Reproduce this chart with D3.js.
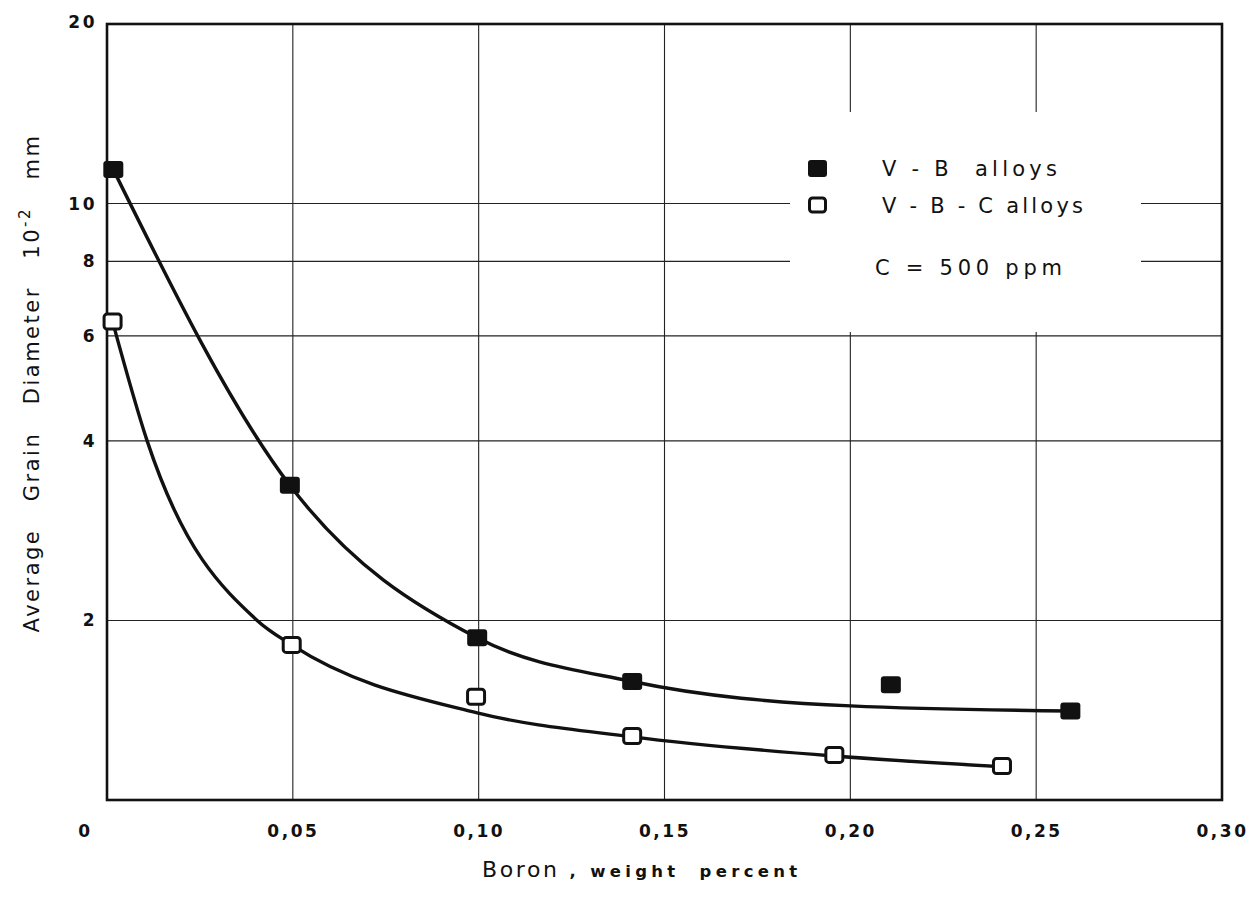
<!DOCTYPE html>
<html>
<head>
<meta charset="utf-8">
<script src="https://cdn.jsdelivr.net/npm/d3@7"></script>
<style>
  html, body { margin: 0; padding: 0; background: #fff; }
  svg { display: block; }
  text { fill: #111; }
</style>
</head>
<body>
<svg id="chart" width="1258" height="912"></svg>
<script>
// Measured grain sizes (10^-2 mm) against boron content (wt %)
const boronVB  = [0.0017, 0.0492, 0.0996, 0.1413, 0.2109, 0.2592];
const grainVB  = [11.4, 3.37, 1.87, 1.58, 1.56, 1.41];
const boronVBC = [0.0015, 0.0497, 0.0993, 0.1413, 0.1957, 0.2408];
const grainVBC = [6.34, 1.82, 1.49, 1.28, 1.19, 1.14];

// Hand-drawn trend curves (the 0.21 % V-B point lies off its curve)
const fitBoronVB = [0.0017, 0.0492, 0.0996, 0.1413, 0.2000, 0.2592];
const fitGrainVB = [11.4, 3.37, 1.87, 1.58, 1.438, 1.41];
const fitBoronVBC = [0.0015, 0.0108, 0.0404, 0.0497, 0.0996, 0.1413, 0.1957, 0.2408];
const fitGrainVBC = [6.34, 4.0, 2.0, 1.82, 1.40, 1.276, 1.185, 1.137];

// Axis ticks and labels
const xTicks = [0, 0.05, 0.10, 0.15, 0.20, 0.25, 0.30];
const xTickLabels = ["0", "0,05", "0,10", "0,15", "0,20", "0,25", "0,30"];
const yTicks = [2, 4, 6, 8, 10, 20];
const yTickLabels = ["2", "4", "6", "8", "10", "20"];
const yGrid = [2, 4, 6, 8, 10];

const legendLabels = ["V - B  alloys", "V - B - C alloys"];
const noteLabel = "C = 500 ppm";

const svg = d3.select("#chart");
const plotL = 107, plotR = 1222, plotT = 24, plotB = 800;

const x = d3.scaleLinear().domain([0, 0.30]).range([plotL, plotR]);
const y = d3.scaleLog().domain([1, 20]).range([plotB, plotT]);

const font = "'DejaVu Sans', 'Liberation Sans', sans-serif";

// Grid
const grid = svg.append("g").attr("stroke", "#222").attr("stroke-width", 1.1);
grid.selectAll("line.v").data(xTicks.slice(1, -1)).join("line")
  .attr("class", "v")
  .attr("x1", d => x(d)).attr("x2", d => x(d))
  .attr("y1", plotT).attr("y2", plotB);
grid.selectAll("line.h").data(yGrid).join("line")
  .attr("class", "h")
  .attr("x1", plotL).attr("x2", plotR)
  .attr("y1", d => y(d)).attr("y2", d => y(d));

// White panel behind the legend interrupts the grid
svg.append("rect")
  .attr("x", 790).attr("y", 112)
  .attr("width", 351).attr("height", 220)
  .attr("fill", "#fff");

// Frame
svg.append("rect")
  .attr("x", plotL).attr("y", plotT)
  .attr("width", plotR - plotL).attr("height", plotB - plotT)
  .attr("fill", "none").attr("stroke", "#111").attr("stroke-width", 2.6);

// Axes (labels only; the frame carries the lines)
const xAxis = d3.axisBottom(x).tickValues(xTicks).tickSize(0)
  .tickFormat((d, i) => xTickLabels[i]);
const gx = svg.append("g").attr("transform", `translate(0,${plotB})`).call(xAxis);
gx.select(".domain").remove();
gx.selectAll("text")
  .attr("dy", 0).attr("y", 37)
  .attr("font-family", font).attr("font-weight", "bold")
  .attr("font-size", 17).attr("letter-spacing", 2.5)
  .attr("fill", "#111");
gx.selectAll(".tick").filter(d => d === 0).select("text").attr("x", -22);

const yAxis = d3.axisLeft(y).tickValues(yTicks).tickSize(0)
  .tickFormat(d => yTickLabels[yTicks.indexOf(d)]);
const gy = svg.append("g").attr("transform", `translate(${plotL},0)`).call(yAxis);
gy.select(".domain").remove();
gy.selectAll("text")
  .attr("x", -10)
  .attr("font-family", font).attr("font-weight", "bold")
  .attr("font-size", 17).attr("letter-spacing", 2.5)
  .attr("fill", "#111");
gy.selectAll(".tick").filter(d => d === 20).select("text").attr("dy", "0.2em");

// Trend curves
const curveLine = d3.line()
  .x(d => x(d[0])).y(d => y(d[1]))
  .curve(d3.curveMonotoneX);

svg.append("path")
  .datum(d3.zip(fitBoronVB, fitGrainVB))
  .attr("d", curveLine)
  .attr("fill", "none").attr("stroke", "#111").attr("stroke-width", 3.4);
svg.append("path")
  .datum(d3.zip(fitBoronVBC, fitGrainVBC))
  .attr("d", curveLine)
  .attr("fill", "none").attr("stroke", "#111").attr("stroke-width", 3.4);

// Markers
const fW = 20, fH = 17, oW = 17, oH = 15;
svg.append("g").selectAll("rect")
  .data(d3.zip(boronVB, grainVB)).join("rect")
  .attr("x", d => x(d[0]) - fW / 2).attr("y", d => y(d[1]) - fH / 2)
  .attr("width", fW).attr("height", fH).attr("rx", 3)
  .attr("fill", "#111");
svg.append("g").selectAll("rect")
  .data(d3.zip(boronVBC, grainVBC)).join("rect")
  .attr("x", d => x(d[0]) - oW / 2).attr("y", d => y(d[1]) - oH / 2)
  .attr("width", oW).attr("height", oH).attr("rx", 3)
  .attr("fill", "#fff").attr("stroke", "#111").attr("stroke-width", 3);

// Legend
const lg = svg.append("g");
lg.append("rect").attr("x", 808).attr("y", 160).attr("width", 19).attr("height", 17)
  .attr("rx", 3).attr("fill", "#111");
lg.append("rect").attr("x", 809.5).attr("y", 198).attr("width", 16).attr("height", 14)
  .attr("rx", 3).attr("fill", "#fff").attr("stroke", "#111").attr("stroke-width", 3);
lg.selectAll("text.item").data(legendLabels).join("text")
  .attr("class", "item")
  .attr("x", 882).attr("y", (d, i) => 176 + i * 37)
  .attr("font-family", font).attr("font-size", 21)
  .attr("textLength", (d, i) => i === 0 ? 175 : 201)
  .attr("lengthAdjust", "spacing")
  .style("white-space", "pre")
  .text(d => d);
lg.append("text")
  .attr("x", 875).attr("y", 275)
  .attr("font-family", font).attr("font-size", 21)
  .attr("textLength", 187).attr("lengthAdjust", "spacing")
  .style("white-space", "pre")
  .text(noteLabel);

// Axis titles
const yt = svg.append("text")
  .attr("transform", "translate(39,383) rotate(-90)")
  .attr("text-anchor", "middle")
  .attr("font-family", font).attr("font-size", 21)
  .attr("letter-spacing", 2.5)
  .style("white-space", "pre");
yt.append("tspan").text("Average   Grain   Diameter   10");
yt.append("tspan").attr("dy", -9).attr("font-size", 15).text("-2");
yt.append("tspan").attr("dy", 9).text("   mm");

const xt = svg.append("text")
  .attr("x", 482).attr("y", 877)
  .attr("font-family", font)
  .style("white-space", "pre");
xt.append("tspan").attr("font-size", 22).attr("letter-spacing", 2.6).text("Boron");
xt.append("tspan").attr("font-size", 16.5).attr("font-weight", "bold")
  .attr("letter-spacing", 4.3).text(" , weight  percent");
</script>
</body>
</html>
